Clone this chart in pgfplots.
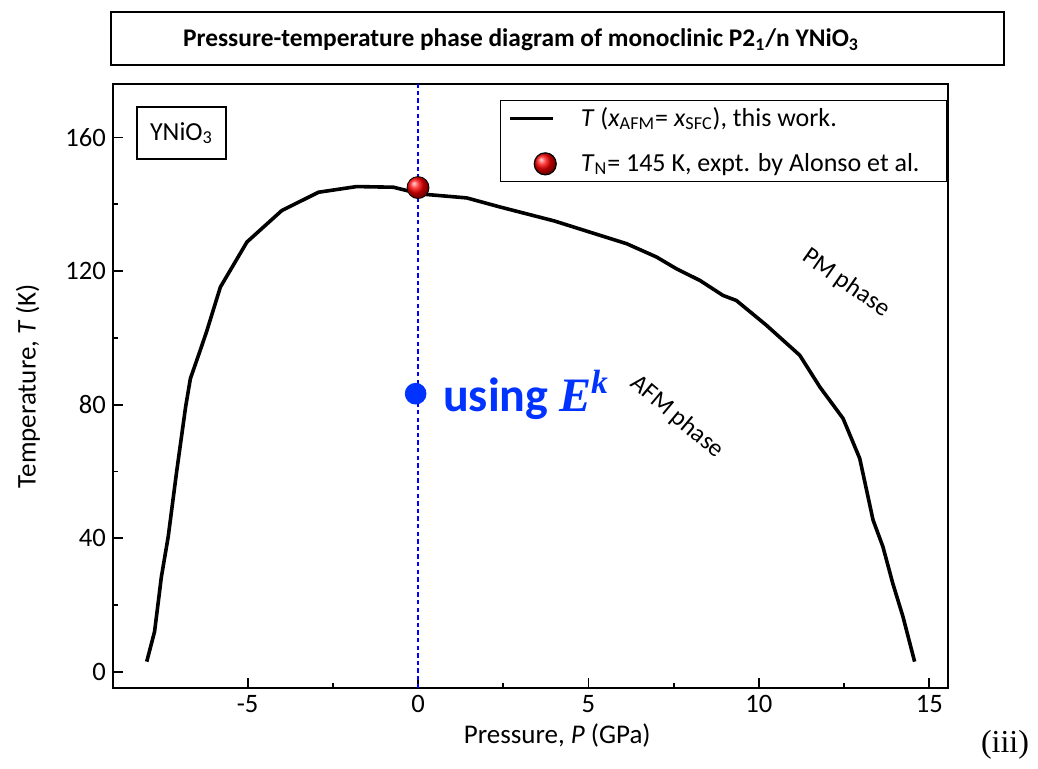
\documentclass[border=0pt]{standalone}
\usepackage{pgfplots}
\pgfplotsset{compat=1.18}
\usepackage{fontspec}
\setmainfont{Carlito}
\newfontfamily\serif{Liberation Serif}
\definecolor{dotblue}{RGB}{0,51,255}

% canvas: 1038 x 768 px at 0.5pt per px
\newcommand\px[2]{({#1*0.5pt},{(768-#2)*0.5pt})}

\pgfplotsset{
  lineimg/.style={legend image code/.code={\draw[##1] (0pt,0pt) -- (21.5pt,0pt);}},
  ballimg/.style={legend image code/.code={\draw[##1] plot coordinates {(17.5pt,0pt)};}},
}

\pgfplotstableread{
P      T
-7.96  3.1
-7.73  12.1
-7.53  28.5
-7.33  40.5
-7.09  59.4
-6.82  79.3
-6.68  87.8
-6.39  96.3
-6.20  102.0
-5.80  115.2
-5.02  128.7
-4.00  138.1
-2.92  143.6
-1.80  145.3
-0.72  145.1
0.06   143.1
1.43   141.9
2.40   139.2
4.00   135.0
5.34   130.7
6.12   128.2
7.00   124.2
7.58   120.7
8.27   117.2
8.95   112.7
9.34   111.2
10.22  103.8
11.20  94.8
11.79  85.3
12.47  75.9
12.96  63.9
13.35  45.5
13.64  37.5
13.93  26.5
14.23  16.5
14.43  8.6
14.57  3.1
}\tcurve

\begin{document}
\begin{tikzpicture}
\path \px{0}{0} rectangle \px{1038}{768};

% title box
\draw[line width=1pt] \px{111}{12} rectangle \px{1004}{65};
\node[font=\fontsize{12.7}{15}\selectfont\bfseries] at \px{521}{40}
  {Pressure-temperature phase diagram of monoclinic P2\textsubscript{1}/n YNiO\textsubscript{3}};

\begin{axis}[
    at={(56.5pt,40pt)}, anchor=south west,
    scale only axis, width=417.5pt, height=302pt,
    xmin=-8.95, xmax=15.55,
    ymin=-4.8, ymax=176,
    xtick={-5,0,5,10,15},
    ytick={0,40,80,120,160},
    minor x tick num=1, minor y tick num=1,
    tick align=inside, tick pos=left,
    major tick length=5pt, minor tick length=2.5pt,
    axis line style={line width=0.9pt},
    every tick/.style={black, line width=0.9pt},
    /pgf/number format/assume math mode=true,
    ticklabel style={font=\fontsize{13.3}{15}\selectfont},
    xlabel={Pressure, \textit{P} (GPa)},
    ylabel={Temperature, \textit{T} (K)},
    label style={font=\fontsize{13.5}{16}\selectfont},
    xlabel style={at={(axis description cs:0.532,-0.079)}, anchor=center},
    ylabel style={at={(axis description cs:-0.102,0.5)}, anchor=center},
    legend style={at={(0.999,0.974)}, anchor=north east,
        draw=black, line width=0.6pt,
        font=\fontsize{13}{15}\selectfont,
        row sep=8pt, column sep=10pt, inner xsep=4pt, inner ysep=1.5pt},
    legend cell align=left,
    clip=false,
]
\addplot[black, line width=1.8pt, lineimg] table[x=P, y=T] {\tcurve};
\addlegendentry{\textit{T} (\textit{x}\textsubscript{AFM}= \textit{x}\textsubscript{SFC}), this work.}

\addplot[blue, line width=0.8pt, dash pattern=on 2.2pt off 1.6pt, forget plot]
  coordinates {(0,-4.8) (0,176)};

\addplot[only marks, mark=ball, mark size=5.5pt, mark options={ball color=red}, ballimg]
  coordinates {(0,145)};
\addlegendentry{\textit{T}\textsubscript{N}= 145 K, expt. by Alonso et al.\rule[-10pt]{7.5pt}{0pt}}

\addplot[only marks, mark=*, mark size=5.2pt, color=dotblue, forget plot]
  coordinates {(-0.07,83.3)};
\end{axis}

% annotations
\node[draw, line width=0.8pt, minimum width=44.5pt, minimum height=26pt,
  font=\fontsize{13}{15}\selectfont] at \px{181.5}{133} {YNiO\textsubscript{3}};
\node[anchor=west, text=dotblue, font=\fontsize{24}{28}\selectfont\bfseries]
  at \px{436}{395} {using {\serif\bfseries\itshape E\textsuperscript{k}}};
\node[rotate=-35, font=\fontsize{12.5}{15}\selectfont] at \px{846}{283} {PM phase};
\node[rotate=-40, font=\fontsize{12.5}{15}\selectfont] at \px{677}{417} {AFM phase};
\node[font=\serif\fontsize{16}{19}\selectfont] at \px{1005}{745} {(iii)};
\end{tikzpicture}
\end{document}
